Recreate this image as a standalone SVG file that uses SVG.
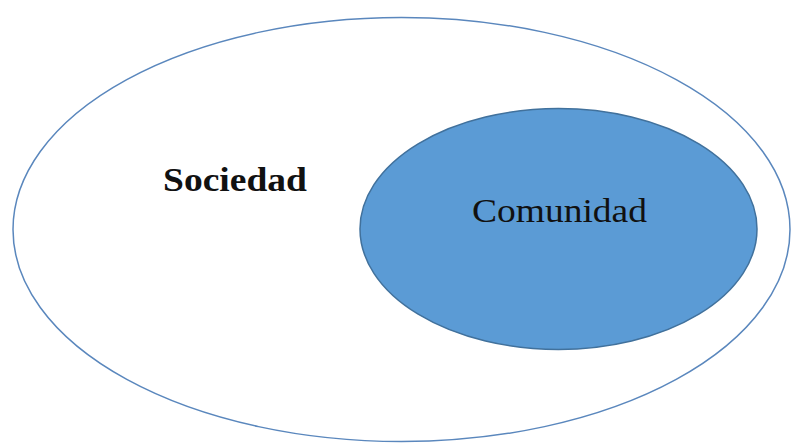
<svg xmlns="http://www.w3.org/2000/svg" width="798" height="443" viewBox="0 0 798 443">
<style>
.lbl{font-family:"Liberation Serif","Times New Roman",serif;fill:#111;}
</style>
<rect width="798" height="443" fill="#ffffff"/>
<g id="sociedad">
<ellipse cx="401.5" cy="229.5" rx="388.5" ry="212" fill="#ffffff" stroke="#5a87bd" stroke-width="1.5"/>
<text class="lbl" x="163" y="191" font-size="33" font-weight="bold" textLength="144" lengthAdjust="spacingAndGlyphs">Sociedad</text>
</g>
<g id="comunidad">
<ellipse cx="558.5" cy="229" rx="198.5" ry="120.5" fill="#5b9bd5" stroke="#41719c" stroke-width="1.5"/>
<text class="lbl" x="472" y="222" font-size="33" textLength="175" lengthAdjust="spacingAndGlyphs">Comunidad</text>
</g>
<g id="connectors"></g>
</svg>
